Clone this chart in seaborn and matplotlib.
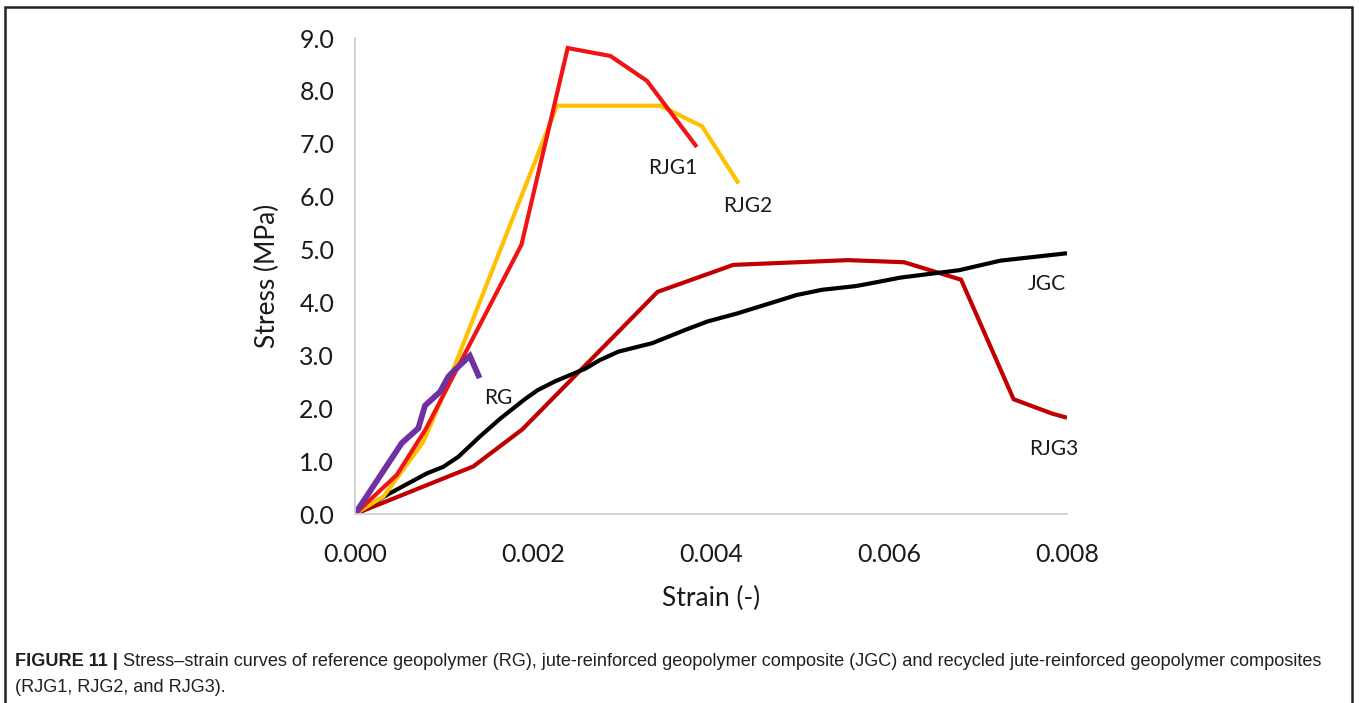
import matplotlib
matplotlib.use("Agg")
import matplotlib.pyplot as plt
import seaborn as sns
import pandas as pd
from matplotlib.patches import Rectangle

# ---- data ----
rg_strain = [0.0, 0.000525, 0.000711, 0.000787, 0.000955, 0.00105, 0.00112, 0.00129, 0.0014]
rg_stress = [0.0, 1.34, 1.62, 2.05, 2.31, 2.60, 2.72, 2.99, 2.57]

jgc_strain = [0.0, 0.00039, 0.00081, 0.00099, 0.00116, 0.0014, 0.00163, 0.00190, 0.00205,
              0.00225, 0.00259, 0.00275, 0.00296, 0.00334, 0.00371, 0.00396, 0.00429,
              0.00454, 0.00479, 0.00496, 0.00525, 0.00563, 0.00579, 0.00613, 0.00679,
              0.00725, 0.0080]
jgc_stress = [0.0, 0.39, 0.77, 0.89, 1.08, 1.46, 1.80, 2.16, 2.34,
              2.51, 2.75, 2.91, 3.07, 3.23, 3.48, 3.64, 3.79,
              3.92, 4.05, 4.14, 4.24, 4.31, 4.36, 4.47, 4.61,
              4.79, 4.93]

rjg1_strain = [0.0, 0.00047, 0.00079, 0.00187, 0.00239, 0.00287, 0.00328, 0.00384]
rjg1_stress = [0.0, 0.74, 1.59, 5.09, 8.81, 8.66, 8.19, 6.94]

rjg2_strain = [0.0, 0.00032, 0.00077, 0.00096, 0.00227, 0.00343, 0.0039, 0.00431]
rjg2_stress = [0.0, 0.33, 1.37, 2.12, 7.72, 7.72, 7.33, 6.25]

rjg3_strain = [0.0, 0.00133, 0.00188, 0.0034, 0.00425, 0.00554, 0.00617, 0.00681, 0.0074, 0.00783, 0.0080]
rjg3_stress = [0.0, 0.90, 1.60, 4.20, 4.71, 4.80, 4.76, 4.43, 2.17, 1.90, 1.82]

series_names = ["RJG3", "JGC", "RJG2", "RJG1", "RG"]
x_ticks = [0.000, 0.002, 0.004, 0.006, 0.008]
y_ticks = [0.0, 1.0, 2.0, 3.0, 4.0, 5.0, 6.0, 7.0, 8.0, 9.0]

caption_bold = "FIGURE 11 | "
caption_rest1 = ("Stress\u2013strain curves of reference geopolymer (RG), jute-reinforced geopolymer "
                 "composite (JGC) and recycled jute-reinforced geopolymer composites")
caption_line2 = "(RJG1, RJG2, and RJG3)."

# ---- build long table ----
data = {
    "RG": (rg_strain, rg_stress),
    "JGC": (jgc_strain, jgc_stress),
    "RJG1": (rjg1_strain, rjg1_stress),
    "RJG2": (rjg2_strain, rjg2_stress),
    "RJG3": (rjg3_strain, rjg3_stress),
}
rows = []
for name, (xs, ys) in data.items():
    for i, (xv, yv) in enumerate(zip(xs, ys)):
        rows.append({"series": name, "order": i, "strain": xv, "stress": yv})
df = pd.DataFrame(rows)

colors = {"RG": "#7030A0", "JGC": "#000000", "RJG1": "#F01414", "RJG2": "#FFC000", "RJG3": "#C00000"}
widths = {"RG": 4.2, "JGC": 3.0, "RJG1": 3.0, "RJG2": 3.0, "RJG3": 3.0}

sns.set_theme(style="white")
plt.rcParams["font.family"] = ["Lato", "DejaVu Sans"]

fig = plt.figure(figsize=(13.59, 7.03), dpi=100)
ax = fig.add_axes([355 / 1359, 1 - 514 / 703, (1067 - 355) / 1359, (514 - 38) / 703])

for name in series_names:
    sub = df[df["series"] == name].sort_values("order")
    sns.lineplot(data=sub, x="strain", y="stress", sort=False, estimator=None,
                 color=colors[name], linewidth=widths[name], ax=ax,
                 solid_joinstyle="miter", solid_capstyle="butt")

ax.set_xlim(0, 0.008)
ax.set_ylim(0, 9.0)
ax.set_xticks(x_ticks)
ax.set_xticklabels([f"{v:.3f}" for v in x_ticks])
ax.set_yticks(y_ticks)
ax.set_yticklabels([f"{v:.1f}" for v in y_ticks])
ax.tick_params(axis="both", which="major", direction="out", length=7, width=1.2,
               color="#BFBFBF", labelsize=18, labelcolor="#1a1a1a", pad=8)
ax.tick_params(axis="x", pad=14)
for s in ["top", "right"]:
    ax.spines[s].set_visible(False)
for s in ["left", "bottom"]:
    ax.spines[s].set_color("#D0D0D0")
    ax.spines[s].set_linewidth(1.3)
ax.set_xlabel("Strain (-)", fontsize=19, color="#1a1a1a", labelpad=14)
ax.set_ylabel("Stress (MPa)", fontsize=19, color="#1a1a1a", labelpad=14)
ax.grid(False)

labels = {"RJG1": (0.00357, 6.55), "RJG2": (0.00441, 5.82), "RG": (0.00161, 2.2),
          "JGC": (0.00777, 4.35), "RJG3": (0.00785, 1.23)}
for name, (lx, ly) in labels.items():
    ax.text(lx, ly, name, fontsize=15, color="#1a1a1a", ha="center", va="center")

# border frame
fig.patches.append(Rectangle((5 / 1359, -0.05), (1352 - 5) / 1359, 1 - 7 / 703 + 0.05,
                             transform=fig.transFigure, fill=False, edgecolor="#222222",
                             linewidth=1.8))

# caption
cap_fam = ["Liberation Sans", "DejaVu Sans"]
cap_size = 13.1
t1 = fig.text(15 / 1359, 1 - 662 / 703, caption_bold, fontsize=cap_size, fontweight="bold",
              family=cap_fam, color="#231f20", va="center", ha="left")
fig.canvas.draw()
r = fig.canvas.get_renderer()
bb = t1.get_window_extent(r)
fig.text(bb.x1 / fig.bbox.width, 1 - 662 / 703, caption_rest1, fontsize=cap_size,
         family=cap_fam, color="#231f20", va="center", ha="left")
fig.text(15 / 1359, 1 - 688 / 703, caption_line2, fontsize=cap_size,
         family=cap_fam, color="#231f20", va="center", ha="left")

fig.savefig("out.png", dpi=100)
